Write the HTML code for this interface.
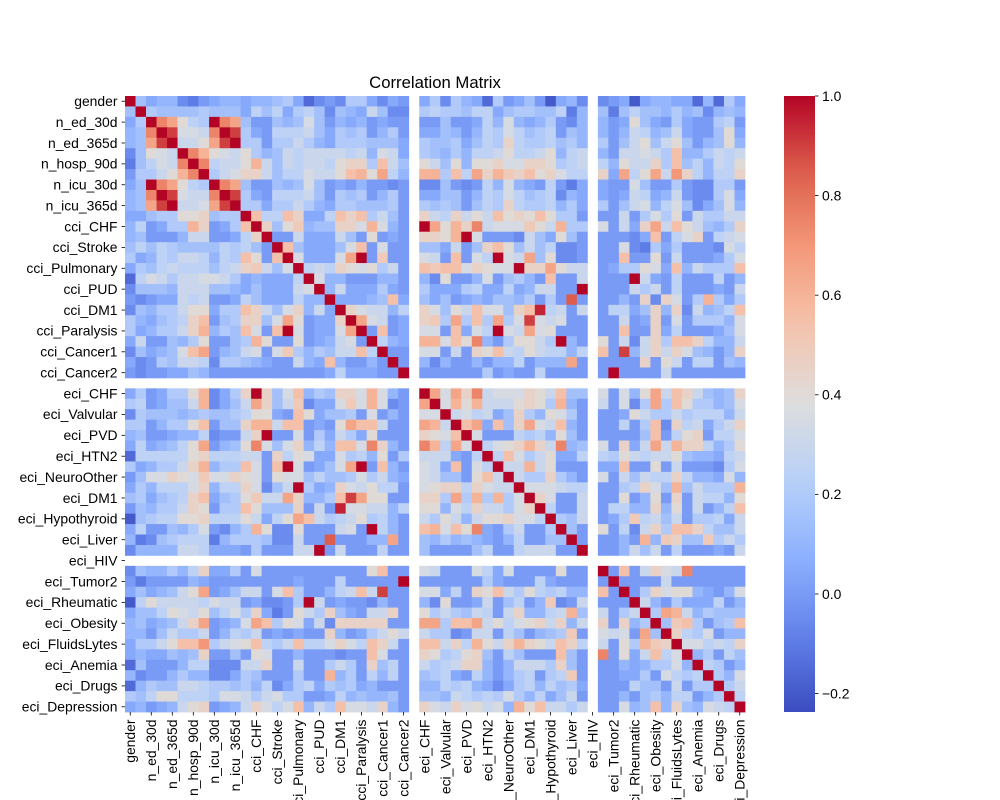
<!DOCTYPE html>
<html>
<head>
<meta charset="utf-8">
<style>
html,body{margin:0;padding:0;background:#fff;}
svg{display:block;}
text{font-family:"Liberation Sans","DejaVu Sans",sans-serif;fill:#000;}
</style>
</head>
<body>
<svg id="chart" width="1000" height="800" viewBox="0 0 1000 800" xmlns="http://www.w3.org/2000/svg">
  <defs>
    <linearGradient id="cbgrad" x1="0" y1="1" x2="0" y2="0"></linearGradient>
  </defs>
  <text x="435" y="88" font-size="16.7" text-anchor="middle">Correlation Matrix</text>
  <g id="cells"></g>
  <g id="yaxis"></g>
  <g id="xaxis"></g>
  <g id="colorbar"></g>
</svg>
<script>
const variableNames = ["gender","age","n_ed_30d","n_ed_90d","n_ed_365d","n_hosp_30d","n_hosp_90d","n_hosp_365d","n_icu_30d","n_icu_90d","n_icu_365d",
"cci_MI","cci_CHF","cci_PVD","cci_Stroke","cci_Dementia","cci_Pulmonary","cci_Rheumatic","cci_PUD","cci_Liver1","cci_DM1","cci_DM2","cci_Paralysis","cci_Renal","cci_Cancer1","cci_Liver2","cci_Cancer2","cci_HIV",
"eci_CHF","eci_Arrhythmia","eci_Valvular","eci_PHTN","eci_PVD","eci_HTN1","eci_HTN2","eci_Paralysis","eci_NeuroOther","eci_Pulmonary","eci_DM1","eci_DM2","eci_Hypothyroid","eci_Renal","eci_Liver","eci_PUD","eci_HIV","eci_Lymphoma","eci_Tumor2","eci_Tumor1","eci_Rheumatic","eci_Coagulopathy","eci_Obesity","eci_WeightLoss","eci_FluidsLytes","eci_BloodLoss","eci_Anemia","eci_Alcohol","eci_Drugs","eci_Psychoses","eci_Depression"];

// Correlation matrix, upper triangle, encoded: a=-0.25 ... z=1.00 (step 0.05), '.'=NaN, '-'=lower triangle (mirrored)
const corrRows = [
"zighhedfghhghhijgcef"+"ejjgegf.gjejhgcjfgif"+"bghe.efgbghhggchcjg",
"izjiiiijiiigkikgjkie"+"ihgliee.jkjjikkgijji"+"ikdh.idikiihjhiehih",
"gizusnkjzusiffihimif"+"hghfgff.ffiffgkhmhgh"+"jfeh.hfgnigfjgffjkf",
"hiuzxmmluzxjgfkkklig"+"jijfhjf.ggihfhkjmkij"+"kfih.hfhlkhilgffing",
"hisxzllnsxzjjfjjljhg"+"jjjiiig.jiijgikjokjj"+"kijh.jfilnilnifhinh",
"einmlzurnmlnjhilklll"+"lklhmlg.jihjhkklnkkl"+"nhkl.hfllmljqhhjlkl",
"diklluzukllnrlilkllk"+"noojqli.nlinhnnommoo"+"njkl.khnllojqikhlkn",
"fjjlmruzjlmoolikkmll"+"nqrnskh.rrjqksorpoqn"+"omkk.ogsknsltokhkko",
"gizusnkjzusiffihimif"+"gfhffef.eeifefkhmhgf"+"kfdg.gffmiffjfeejjf",
"hiuzxmlluzxjgfkkklif"+"jijfhjf.ggiifhkjmkij"+"kehg.gfglkghlfeejmg",
"hisxzllnsxzjjgjjljhg"+"jjiiijf.jijifikjokjj"+"khjg.jfilmhkmiegimh",
"ggiiinooiiizqkkqoggk"+"qoqjlif.olkolnlqnonq"+"njjf.fflfjmjnfljjll",
"gkfhkknrfhkqzoinphii"+"oomrmhf.zsnroulmmmpn"+"lrjj.mflgoslqnlihjo",
"hiffgiklffglozfflggg"+"lifnfgf.oonrzmfffeli"+"gnif.fffegqfkmofklm",
"ikijjillijjlifzqiggg"+"imqfmff.iiglfioqnili"+"keef.ffmedjgjfffemk",
"jhikkmorikkqnfqzmggg"+"mszfpff.mlfqfmkzmlsi"+"neef.ffqffnflfffgjm",
"gkilmlnoilmoqlimzklk"+"onmnjlf.qpqqmonmmzoo"+"snll.fgjjnmgqhljjjq",
"cknllllknllghgghkzmh"+"hfffhhf.henffhmfijhf"+"qffl.fffzlgfkfffkfh",
"eiiiilmjiiigiggglmzh"+"lgggjgf.jgggjkggkghl"+"lffz.fffljlfkfffgfl",
"gegghkkkefgkigggihhz"+"ggghiqg.igifghgiihjf"+"jfwf.ffhfoeomfjrjgj",
"-".repeat(20)+"zomllhk.ominlqmmioqy"+"klfl.fkkgiohoelhikq",
"-".repeat(20)+"ozsmlfg.opjsjqjsjmxm"+"lmff.fflfgofmfjjjhm",
"-".repeat(20)+"mszfqfg.mmfqgmkzmlsm"+"nfff.ffqffogkfffgim",
"-".repeat(20)+"lmfzkhg.rrmqnuhfjnnl"+"jzhf.nflelojqqokhhl",
"-".repeat(20)+"llqkzff.mmflfonqlknl"+"kkhk.qfxhlolomihfho",
"-".repeat(20)+"hffhfzf.hehffhfhhkfh"+"hhsf.ffffofnlfkkfih",
"-".repeat(20)+"kfgfffz.ffffffjfgffk"+"ffff.fzfffflfffffff",
".".repeat(59),
"-".repeat(28)+"zsmsoulmmmon"+"lqii.mfmhnslqolihio",
"-".repeat(28)+"szmrnrlllnon"+"jrhf.lfmejsjqnjjhim",
"-".repeat(28)+"mmzlmklgiojh"+"nmjf.ffgnljjljkkkhl",
"-".repeat(28)+"srlzqsgqiosm"+"lqhf.ffkfjqeoklgjlo",
"-".repeat(28)+"onmqzmfffkjk"+"hnif.ffffiqfknofkkm",
"-".repeat(28)+"urksmzkmnoro"+"luhi.mfoglslrookhjn",
"-".repeat(28)+"lllgfkzkqmjl"+"nggk.kjnlkllnihhgkl",
"-".repeat(28)+"mmfqfmkzllrl"+"nfff.ggqffnflfffejm",
"-".repeat(28)+"mliiflqmzljj"+"ojhf.mflilkkokhhgmh",
"-".repeat(28)+"onoolomllzmm"+"mlkk.ffjkomiriljjjr",
"-".repeat(28)+"nojsjrjsjmzo"+"mffl.ffnfhnfoflkkhn",
"-".repeat(28)+"olimlomljooz"+"kffl.fkkhhohnflfhkq",
"-".repeat(40)+"zjil.fgjpklilfjjkgl",
"-".repeat(40)+"jzif.nfkelojqqokiil",
"-".repeat(40)+"iizf.ffhfrhpoiipjlj",
"-".repeat(40)+"lffz.ffhlilfkfffgfl",
".".repeat(59),
"-".repeat(40)+"fnff.zfqflomlufffff",
"-".repeat(40)+"ffff.fzfffflfffffff",
"-".repeat(40)+"jkhh.qfzfjomnnhgfhm",
"-".repeat(40)+"qefl.fffzlhfjgggkfh",
"-".repeat(40)+"klri.lfjlzjsrlhjiii",
"-".repeat(40)+"lohl.ofohjzipqjfijq",
"-".repeat(40)+"ijpf.mlmfsizokjmfhh",
"-".repeat(40)+"lqok.lfnjrpozmmklko",
"-".repeat(40)+"fqif.ufnglqkmzhjfki",
"-".repeat(40)+"joif.ffhghjjmhzkjfh",
"-".repeat(40)+"jkpf.ffggjfmkjkzjhm",
"-".repeat(40)+"kijg.fffkiiflfjjzjl",
"-".repeat(40)+"gilf.ffhfijhkkfhjzk",
"-".repeat(40)+"lljl.fgmhjogojklkkz"
];
const colorbarTicks = [-0.2, 0.0, 0.2, 0.4, 0.6, 0.8, 1.0];
const colorbarTickLabels = ["\u22120.2","0.0","0.2","0.4","0.6","0.8","1.0"];
const valueMin = -0.237;
const valueMax = 1.0;

const NS = "http://www.w3.org/2000/svg";
const plotLeft = 125, plotRight = 745, plotTop = 96, plotBottom = 712;
const n = variableNames.length;
const cellW = (plotRight - plotLeft) / n;
const cellH = (plotBottom - plotTop) / n;
function xPos(j){ return plotLeft + j * cellW; }
function yPos(i){ return plotTop + i * cellH; }

function decode(ch){
  if (ch === '.' || ch === undefined) return null;
  return -0.25 + (ch.charCodeAt(0) - 97) * 0.05;
}
function cellValue(i, j){
  const r = i <= j ? i : j, c = i <= j ? j : i;
  return decode(corrRows[r][c]);
}
const cmapStops = [[59,76,192],[98,130,234],[141,176,254],[184,208,249],[221,221,221],[245,196,173],[244,154,123],[222,96,77],[180,4,38]];
function coolwarm(t){
  t = Math.max(0, Math.min(1, t));
  const p = t * (cmapStops.length - 1);
  const k = Math.min(Math.floor(p), cmapStops.length - 2);
  const f = p - k;
  const a = cmapStops[k], b = cmapStops[k+1];
  return "rgb(" + [0,1,2].map(q => Math.round(a[q] + (b[q]-a[q]) * f)).join(",") + ")";
}
function colorFor(v){ return coolwarm((v - valueMin) / (valueMax - valueMin)); }

const cellsG = document.getElementById('cells');
for (let i = 0; i < n; i++) {
  for (let j = 0; j < n; j++) {
    const v = cellValue(i, j);
    if (v === null) continue;
    const r = document.createElementNS(NS, 'rect');
    
    
    r.setAttribute('x', xPos(j).toFixed(2));
    r.setAttribute('y', yPos(i).toFixed(2));
    r.setAttribute('width', (cellW + 0.4).toFixed(2));
    r.setAttribute('height', (cellH + 0.4).toFixed(2));
    r.setAttribute('fill', colorFor(v));
    cellsG.appendChild(r);
  }
}

const yG = document.getElementById('yaxis');
const xG = document.getElementById('xaxis');
for (let i = 0; i < n; i += 2) {
  const cy = yPos(i) + cellH / 2;
  const tk = document.createElementNS(NS, 'line');
  
  
  tk.setAttribute('x1', plotLeft - 3.5); tk.setAttribute('x2', plotLeft);
  tk.setAttribute('y1', cy); tk.setAttribute('y2', cy);
  tk.setAttribute('stroke', '#000'); tk.setAttribute('stroke-width', '0.8');
  yG.appendChild(tk);
  const t = document.createElementNS(NS, 'text');
  
  
  t.setAttribute('x', plotLeft - 7.5);
  t.setAttribute('y', cy + 4.8);
  t.setAttribute('font-size', '13.9');
  t.setAttribute('text-anchor', 'end');
  t.textContent = variableNames[i];
  yG.appendChild(t);

  const cx = xPos(i) + cellW / 2;
  const tx = document.createElementNS(NS, 'line');
  
  
  tx.setAttribute('x1', cx); tx.setAttribute('x2', cx);
  tx.setAttribute('y1', plotBottom); tx.setAttribute('y2', plotBottom + 3.5);
  tx.setAttribute('stroke', '#000'); tx.setAttribute('stroke-width', '0.8');
  xG.appendChild(tx);
  const xt = document.createElementNS(NS, 'text');
  
  
  xt.setAttribute('font-size', '13.9');
  xt.setAttribute('text-anchor', 'end');
  xt.setAttribute('transform', 'translate(' + (cx + 4.8) + ',' + (plotBottom + 7.5) + ') rotate(-90)');
  xt.textContent = variableNames[i];
  xG.appendChild(xt);
}

// Colorbar
const cbLeft = 784, cbRight = 815;
const grad = document.getElementById('cbgrad');
for (let s = 0; s <= 20; s++) {
  const st = document.createElementNS(NS, 'stop');
  st.setAttribute('offset', (s / 20).toFixed(3));
  st.setAttribute('stop-color', coolwarm(s / 20));
  grad.appendChild(st);
}
const cbG = document.getElementById('colorbar');
const cbRect = document.createElementNS(NS, 'rect');


cbRect.setAttribute('x', cbLeft); cbRect.setAttribute('y', plotTop);
cbRect.setAttribute('width', cbRight - cbLeft); cbRect.setAttribute('height', plotBottom - plotTop);
cbRect.setAttribute('fill', 'url(#cbgrad)');
cbG.appendChild(cbRect);
function cbY(v){ return plotBottom - (v - valueMin) / (valueMax - valueMin) * (plotBottom - plotTop); }
colorbarTicks.forEach((v, k) => {
  const y = cbY(v);
  const tk = document.createElementNS(NS, 'line');
  
  
  tk.setAttribute('x1', cbRight); tk.setAttribute('x2', cbRight + 3.5);
  tk.setAttribute('y1', y); tk.setAttribute('y2', y);
  tk.setAttribute('stroke', '#000'); tk.setAttribute('stroke-width', '0.8');
  cbG.appendChild(tk);
  const t = document.createElementNS(NS, 'text');
  
  
  t.setAttribute('x', cbRight + 7);
  t.setAttribute('y', y + 4.8);
  t.setAttribute('font-size', '13.9');
  t.textContent = colorbarTickLabels[k];
  cbG.appendChild(t);
});
</script>
</body>
</html>
